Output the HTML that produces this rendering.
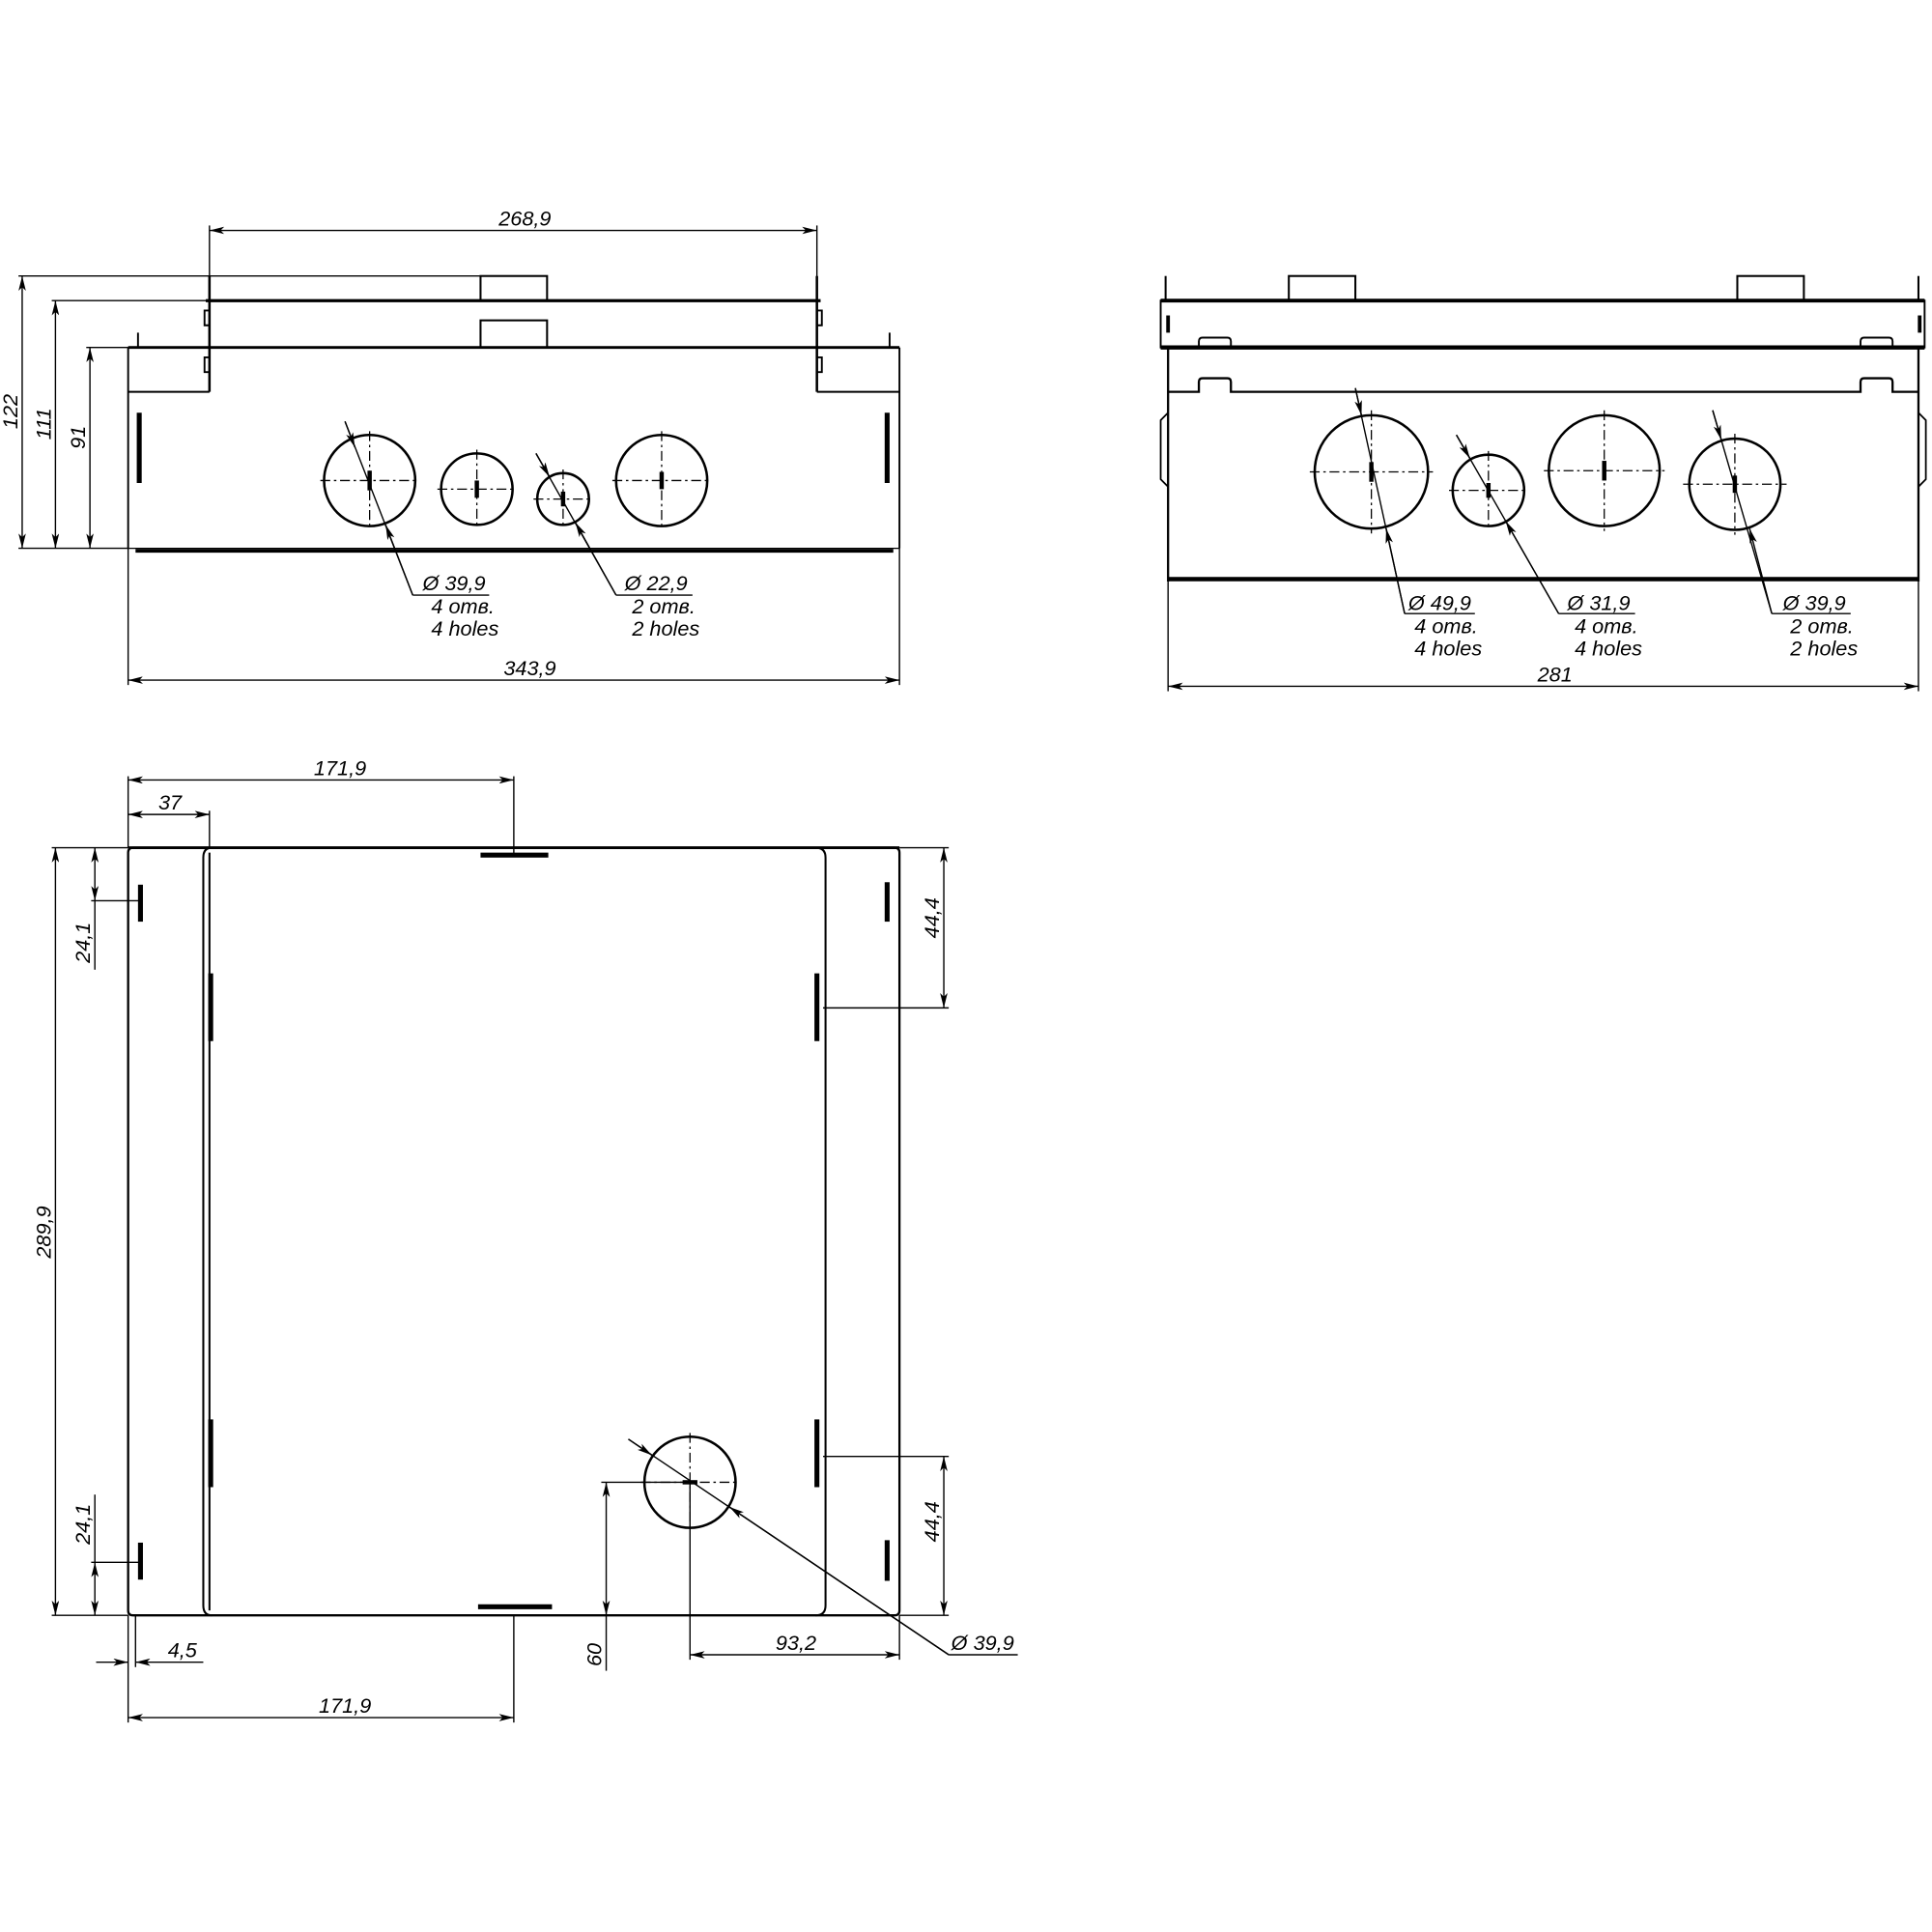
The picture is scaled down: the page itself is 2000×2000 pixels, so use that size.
<!DOCTYPE html>
<html><head><meta charset="utf-8"><style>
html,body{margin:0;padding:0;background:#fff}
svg{display:block}
text{font-family:"Liberation Sans","DejaVu Sans",sans-serif;font-style:italic;font-size:17px;fill:#000}
</style></head><body>
<svg width="2000" height="2000" viewBox="0 0 1568 1568" xmlns="http://www.w3.org/2000/svg">
<defs>
<marker id="a" viewBox="0 0 12 6" refX="12" refY="3" markerWidth="12" markerHeight="6" markerUnits="userSpaceOnUse" orient="auto-start-reverse"><path d="M0,0 L12,3 L0,6 L3,3z" fill="#000"/></marker>
</defs>
<g fill="none" stroke="#000" stroke-width="1.1">
<!-- ===== TOP LEFT VIEW ===== -->
<line x1="170" y1="187" x2="663" y2="187" marker-start="url(#a)" marker-end="url(#a)"/>
<line x1="170" y1="183" x2="170" y2="244"/><line x1="663" y1="183" x2="663" y2="244"/>
<line x1="167" y1="244" x2="666" y2="244" stroke-width="2.5"/>
<rect x="390" y="224" width="54" height="20" stroke-width="1.6"/>
<rect x="390" y="260" width="54" height="22" stroke-width="1.6"/>
<line x1="170" y1="224" x2="170" y2="318" stroke-width="2"/>
<line x1="663" y1="224" x2="663" y2="318" stroke-width="2"/>
<path d="M170,252 h-4 v12 h4 M170,290 h-4 v12 h4 M663,252 h4 v12 h-4 M663,290 h4 v12 h-4" stroke-width="1.5"/>
<line x1="104" y1="282" x2="730" y2="282" stroke-width="2.2"/>
<line x1="112" y1="270" x2="112" y2="282" stroke-width="1.5"/><line x1="722" y1="270" x2="722" y2="282" stroke-width="1.5"/>
<line x1="104" y1="282" x2="104" y2="445" stroke-width="1.5"/><line x1="730" y1="282" x2="730" y2="445" stroke-width="1.5"/>
<line x1="104" y1="318" x2="170" y2="318" stroke-width="1.5"/><line x1="663" y1="318" x2="730" y2="318" stroke-width="1.5"/>
<line x1="104" y1="445" x2="730" y2="445" stroke-width="1"/>
<line x1="110" y1="447" x2="725" y2="447" stroke-width="3"/>
<line x1="113" y1="335" x2="113" y2="392" stroke-width="4"/><line x1="720" y1="335" x2="720" y2="392" stroke-width="4"/>
<circle cx="300" cy="390" r="37" stroke-width="2"/>
<circle cx="387" cy="397" r="29" stroke-width="2"/>
<circle cx="457" cy="405" r="21" stroke-width="2"/>
<circle cx="537" cy="390" r="37" stroke-width="2"/>
<g stroke-dasharray="8,3,2,3" stroke-width="1">
<line x1="260" y1="390" x2="340" y2="390"/><line x1="300" y1="350" x2="300" y2="430"/>
<line x1="355" y1="397" x2="419" y2="397"/><line x1="387" y1="365" x2="387" y2="429"/>
<line x1="433" y1="405" x2="481" y2="405"/><line x1="457" y1="381" x2="457" y2="429"/>
<line x1="497" y1="390" x2="577" y2="390"/><line x1="537" y1="350" x2="537" y2="430"/>
</g>
<g stroke-width="3.5"><line x1="300" y1="382" x2="300" y2="398"/><line x1="387" y1="390" x2="387" y2="404"/><line x1="457" y1="399" x2="457" y2="411"/><line x1="537" y1="383" x2="537" y2="397"/></g>
<line x1="280" y1="342" x2="335" y2="483"/><line x1="335" y1="483" x2="397" y2="483"/>
<line x1="280" y1="342" x2="288" y2="363" marker-end="url(#a)"/><line x1="335" y1="483" x2="313" y2="426" marker-end="url(#a)"/>
<line x1="435" y1="368" x2="500" y2="483"/><line x1="500" y1="483" x2="562" y2="483"/>
<line x1="435" y1="368" x2="446" y2="387" marker-end="url(#a)"/><line x1="500" y1="483" x2="467" y2="424" marker-end="url(#a)"/>
<line x1="15" y1="224" x2="390" y2="224"/>
<line x1="42" y1="244" x2="167" y2="244"/>
<line x1="70" y1="282" x2="104" y2="282"/>
<line x1="15" y1="445" x2="104" y2="445"/>
<line x1="18" y1="224" x2="18" y2="445" marker-start="url(#a)" marker-end="url(#a)"/>
<line x1="45" y1="244" x2="45" y2="445" marker-start="url(#a)" marker-end="url(#a)"/>
<line x1="73" y1="282" x2="73" y2="445" marker-start="url(#a)" marker-end="url(#a)"/>
<line x1="104" y1="445" x2="104" y2="556"/><line x1="730" y1="445" x2="730" y2="556"/>
<line x1="104" y1="552" x2="730" y2="552" marker-start="url(#a)" marker-end="url(#a)"/>

<!-- ===== TOP RIGHT VIEW ===== -->
<line x1="946" y1="224" x2="946" y2="244" stroke-width="1.6"/><line x1="1557" y1="224" x2="1557" y2="244" stroke-width="1.6"/>
<rect x="1046" y="224" width="54" height="20" stroke-width="1.6"/>
<rect x="1410" y="224" width="54" height="20" stroke-width="1.6"/>
<path d="M942,244 H1562 V282 H942 Z" stroke-width="1.5"/>
<line x1="942" y1="244" x2="1562" y2="244" stroke-width="3"/>
<line x1="942" y1="282" x2="1562" y2="282" stroke-width="3.5"/>
<line x1="948" y1="256" x2="948" y2="270" stroke-width="3"/><line x1="1558" y1="256" x2="1558" y2="270" stroke-width="3"/>
<path d="M973,282 v-5 q0,-3 3,-3 h20 q3,0 3,3 v5 M1510,282 v-5 q0,-3 3,-3 h20 q3,0 3,3 v5" stroke-width="1.5"/>
<line x1="948" y1="282" x2="948" y2="472" stroke-width="1.8"/><line x1="1557" y1="282" x2="1557" y2="472" stroke-width="1.8"/>
<path d="M948,318 H973 v-8 q0,-3 3,-3 h20 q3,0 3,3 v8 H1510 v-8 q0,-3 3,-3 h20 q3,0 3,3 v8 H1557" stroke-width="1.8"/>
<path d="M948,335 l-6,6 v48 l6,6 M1557,335 l6,6 v48 l-6,6" stroke-width="1.4"/>
<line x1="948" y1="470" x2="1557" y2="470" stroke-width="3.5"/>
<circle cx="1113" cy="383" r="46" stroke-width="2"/>
<circle cx="1208" cy="398" r="29" stroke-width="2"/>
<circle cx="1302" cy="382" r="45" stroke-width="2"/>
<circle cx="1408" cy="393" r="37" stroke-width="2"/>
<g stroke-dasharray="8,3,2,3" stroke-width="1">
<line x1="1063" y1="383" x2="1163" y2="383"/><line x1="1113" y1="333" x2="1113" y2="433"/>
<line x1="1176" y1="398" x2="1240" y2="398"/><line x1="1208" y1="366" x2="1208" y2="430"/>
<line x1="1253" y1="382" x2="1351" y2="382"/><line x1="1302" y1="333" x2="1302" y2="431"/>
<line x1="1366" y1="393" x2="1450" y2="393"/><line x1="1408" y1="352" x2="1408" y2="434"/>
</g>
<g stroke-width="3.5"><line x1="1113" y1="375" x2="1113" y2="391"/><line x1="1208" y1="392" x2="1208" y2="404"/><line x1="1302" y1="374" x2="1302" y2="390"/><line x1="1408" y1="386" x2="1408" y2="400"/></g>
<line x1="1100" y1="315" x2="1140" y2="498"/><line x1="1140" y1="498" x2="1197" y2="498"/>
<line x1="1100" y1="315" x2="1105" y2="337" marker-end="url(#a)"/><line x1="1140" y1="498" x2="1125" y2="429" marker-end="url(#a)"/>
<line x1="1182" y1="353" x2="1265" y2="498"/><line x1="1265" y1="498" x2="1327" y2="498"/>
<line x1="1182" y1="353" x2="1193" y2="372" marker-end="url(#a)"/><line x1="1265" y1="498" x2="1222" y2="423" marker-end="url(#a)"/>
<line x1="1390" y1="333" x2="1438" y2="498"/><line x1="1438" y1="498" x2="1502" y2="498"/>
<line x1="1390" y1="333" x2="1397" y2="357" marker-end="url(#a)"/><line x1="1438" y1="498" x2="1420" y2="429" marker-end="url(#a)"/>
<line x1="948" y1="472" x2="948" y2="561"/><line x1="1557" y1="472" x2="1557" y2="561"/>
<line x1="948" y1="557" x2="1557" y2="557" marker-start="url(#a)" marker-end="url(#a)"/>

<!-- ===== BOTTOM VIEW ===== -->
<path d="M108,688 H726 q4,0 4,4 V1307 q0,4 -4,4 H108 q-4,0 -4,-4 V692 q0,-4 4,-4 Z" stroke-width="1.8"/>
<line x1="104" y1="688" x2="730" y2="688" stroke-width="2.2"/>
<path d="M172,688 q-7,0 -7,8 V1303 q0,8 7,8" stroke-width="1.6"/>
<line x1="170" y1="692" x2="170" y2="1307" stroke-width="1.6"/>
<path d="M662,688 q8,0 8,8 V1303 q0,8 -8,8" stroke-width="1.6"/>
<g stroke-width="4">
<line x1="390" y1="694" x2="445" y2="694"/><line x1="388" y1="1304" x2="448" y2="1304"/>
<line x1="114" y1="718" x2="114" y2="748"/><line x1="114" y1="1252" x2="114" y2="1282"/>
<line x1="171" y1="790" x2="171" y2="845"/><line x1="171" y1="1152" x2="171" y2="1207"/>
<line x1="663" y1="790" x2="663" y2="845"/><line x1="663" y1="1152" x2="663" y2="1207"/>
<line x1="720" y1="716" x2="720" y2="748"/><line x1="720" y1="1250" x2="720" y2="1283"/>
</g>
<circle cx="560" cy="1203" r="37" stroke-width="2"/>
<g stroke-dasharray="8,3,2,3" stroke-width="1"><line x1="520" y1="1203" x2="600" y2="1203"/><line x1="560" y1="1163" x2="560" y2="1243"/></g>
<line x1="554" y1="1203" x2="566" y2="1203" stroke-width="3.5"/>
<line x1="510" y1="1168" x2="770" y2="1343"/><line x1="770" y1="1343" x2="826" y2="1343"/>
<line x1="510" y1="1168" x2="529" y2="1181" marker-end="url(#a)"/><line x1="770" y1="1343" x2="592" y2="1223" marker-end="url(#a)"/>
<!-- dims -->
<line x1="104" y1="630" x2="104" y2="688"/><line x1="417" y1="630" x2="417" y2="694"/><line x1="170" y1="658" x2="170" y2="688"/>
<line x1="104" y1="633" x2="417" y2="633" marker-start="url(#a)" marker-end="url(#a)"/>
<line x1="104" y1="661" x2="170" y2="661" marker-start="url(#a)" marker-end="url(#a)"/>
<line x1="42" y1="688" x2="104" y2="688"/><line x1="42" y1="1311" x2="104" y2="1311"/>
<line x1="45" y1="688" x2="45" y2="1311" marker-start="url(#a)" marker-end="url(#a)"/>
<line x1="74" y1="731" x2="114" y2="731"/>
<line x1="77" y1="688" x2="77" y2="731" marker-start="url(#a)" marker-end="url(#a)"/>
<line x1="77" y1="731" x2="77" y2="787"/>
<line x1="74" y1="1268" x2="114" y2="1268"/>
<line x1="77" y1="1268" x2="77" y2="1311" marker-start="url(#a)" marker-end="url(#a)"/>
<line x1="77" y1="1213" x2="77" y2="1268"/>
<line x1="730" y1="688" x2="770" y2="688"/><line x1="668" y1="818" x2="770" y2="818"/>
<line x1="766" y1="688" x2="766" y2="818" marker-start="url(#a)" marker-end="url(#a)"/>
<line x1="668" y1="1182" x2="770" y2="1182"/><line x1="730" y1="1311" x2="770" y2="1311"/>
<line x1="766" y1="1182" x2="766" y2="1311" marker-start="url(#a)" marker-end="url(#a)"/>
<line x1="104" y1="1311" x2="104" y2="1398"/><line x1="110" y1="1311" x2="110" y2="1353"/><line x1="417" y1="1311" x2="417" y2="1398"/>
<line x1="78" y1="1349" x2="104" y2="1349" marker-end="url(#a)"/><line x1="165" y1="1349" x2="110" y2="1349" marker-end="url(#a)"/>
<line x1="104" y1="1394" x2="417" y2="1394" marker-start="url(#a)" marker-end="url(#a)"/>
<line x1="488" y1="1203" x2="560" y2="1203"/>
<line x1="492" y1="1203" x2="492" y2="1311" marker-start="url(#a)" marker-end="url(#a)"/>
<line x1="492" y1="1311" x2="492" y2="1356"/>
<line x1="560" y1="1203" x2="560" y2="1347"/><line x1="730" y1="1311" x2="730" y2="1347"/>
<line x1="560" y1="1343" x2="730" y2="1343" marker-start="url(#a)" marker-end="url(#a)"/>
</g>
<!-- TEXT -->
<text x="426" y="183" text-anchor="middle">268,9</text>
<text x="430" y="548" text-anchor="middle">343,9</text>
<text transform="translate(14,334) rotate(-90)" text-anchor="middle">122</text>
<text transform="translate(41,344) rotate(-90)" text-anchor="middle">111</text>
<text transform="translate(69,355) rotate(-90)" text-anchor="middle">91</text>
<text x="343" y="479">Ø 39,9</text><text x="350" y="498">4 отв.</text><text x="350" y="516">4 holes</text>
<text x="507" y="479">Ø 22,9</text><text x="513" y="498">2 отв.</text><text x="513" y="516">2 holes</text>
<text x="1262" y="553" text-anchor="middle">281</text>
<text x="1143" y="495">Ø 49,9</text><text x="1148" y="514">4 отв.</text><text x="1148" y="532">4 holes</text>
<text x="1272" y="495">Ø 31,9</text><text x="1278" y="514">4 отв.</text><text x="1278" y="532">4 holes</text>
<text x="1447" y="495">Ø 39,9</text><text x="1453" y="514">2 отв.</text><text x="1453" y="532">2 holes</text>
<text x="276" y="629" text-anchor="middle">171,9</text>
<text x="138" y="657" text-anchor="middle">37</text>
<text transform="translate(41,1000) rotate(-90)" text-anchor="middle">289,9</text>
<text transform="translate(73,765) rotate(-90)" text-anchor="middle">24,1</text>
<text transform="translate(73,1237) rotate(-90)" text-anchor="middle">24,1</text>
<text transform="translate(762,745) rotate(-90)" text-anchor="middle">44,4</text>
<text transform="translate(762,1235) rotate(-90)" text-anchor="middle">44,4</text>
<text x="148" y="1345" text-anchor="middle">4,5</text>
<text x="280" y="1390" text-anchor="middle">171,9</text>
<text transform="translate(488,1343) rotate(-90)" text-anchor="middle">60</text>
<text x="646" y="1339" text-anchor="middle">93,2</text>
<text x="772" y="1339">Ø 39,9</text>
</svg>
</body></html>
